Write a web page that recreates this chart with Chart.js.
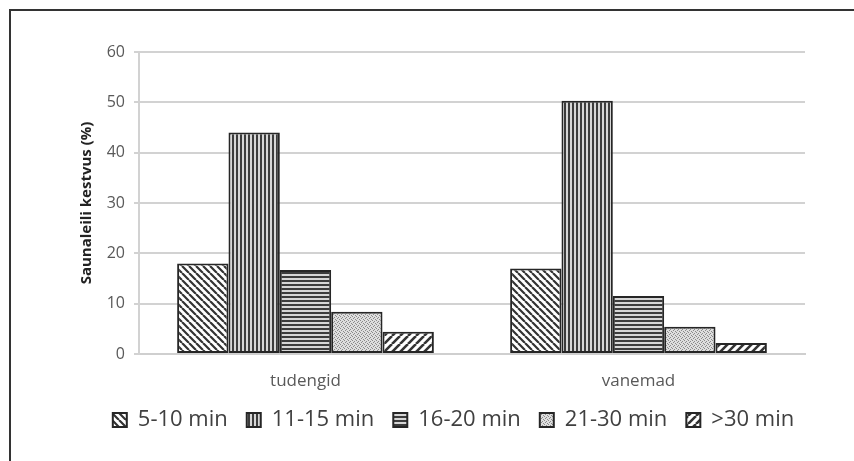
<!DOCTYPE html>
<html>
<head>
<meta charset="utf-8">
<script src="https://cdn.jsdelivr.net/npm/chart.js@4"></script>
<style>
  html, body { margin: 0; padding: 0; background: #fff; }
  #wrap { position: relative; width: 854px; height: 461px; overflow: hidden; }
  #frame { position: absolute; left: 9px; top: 9px; width: 900px; height: 500px; border: 2px solid #333; }
  canvas { position: absolute; left: 0; top: 0; }
</style>
</head>
<body>
<div id="wrap">
  <div id="frame"></div>
  <canvas id="chart" width="854" height="461"></canvas>
</div>
<script>
// andmed
const categories = ['tudengid', 'vanemad'];
const seriesLabels = ['5-10 min', '11-15 min', '16-20 min', '21-30 min', '>30 min'];
const min5to10 = [18, 17];
const min11to15 = [44, 50.3];
const min16to20 = [16.7, 11.5];
const min21to30 = [8.4, 5.4];
const over30 = [4.4, 2.2];
const yMax = 60;
const yStep = 10;

const canvas = document.getElementById('chart');
const ctx = canvas.getContext('2d');

// mustrid (hatch)
function makePattern(size, draw) {
    const c = document.createElement('canvas');
    c.width = size;
    c.height = size;
    const g = c.getContext('2d');
    g.fillStyle = '#fff';
    g.fillRect(0, 0, size, size);
    draw(g, size);
    return ctx.createPattern(c, 'repeat');
}

function diagonal(back, size, width) {
    return makePattern(size, (g, s) => {
        g.strokeStyle = '#333';
        g.lineWidth = width;
        g.beginPath();
        for (const k of [-s, 0, s]) {
            if (back) { g.moveTo(k, 0); g.lineTo(k + s, s); }
            else { g.moveTo(k, s); g.lineTo(k + s, 0); }
        }
        g.stroke();
    });
}

const patBack = diagonal(true, 7, 2.2);
const patSlash = diagonal(false, 8, 2.6);
const patVert = makePattern(4, (g) => {
    g.fillStyle = '#d6d6d6'; g.fillRect(0, 0, 4, 4);
    g.fillStyle = '#3c3c3c'; g.fillRect(0, 0, 2, 4);
});
const patHoriz = makePattern(4, (g) => {
    g.fillStyle = '#d6d6d6'; g.fillRect(0, 0, 4, 4);
    g.fillStyle = '#3c3c3c'; g.fillRect(0, 0, 4, 2);
});
const patDots = makePattern(4, (g) => {
    g.fillStyle = '#dedede'; g.fillRect(0, 0, 4, 4);
    g.fillStyle = '#8a8a8a';
    g.fillRect(0, 0, 1, 1);
    g.fillRect(2, 1, 1, 1);
    g.fillRect(1, 2, 1, 1);
    g.fillRect(3, 3, 1, 1);
});

const seriesData = [min5to10, min11to15, min16to20, min21to30, over30];
const patterns = [patBack, patVert, patHoriz, patDots, patSlash];

const datasets = seriesLabels.map((label, i) => ({
    label: label,
    data: seriesData[i],
    backgroundColor: patterns[i],
    borderColor: '#262626',
    borderWidth: 2,
    borderSkipped: false,
    barPercentage: 1,
    categoryPercentage: 0.771
}));

// legend veidi paremale nagu originaalis
const shiftLegend = {
    id: 'shiftLegend',
    afterLayout(chart) {
        chart.legend.left += 12;
        chart.legend.right += 12;
    }
};

new Chart(ctx, {
    type: 'bar',
    data: { labels: categories, datasets: datasets },
    plugins: [shiftLegend],
    options: {
        responsive: false,
        animation: false,
        layout: { padding: { left: 78, right: 49, top: 52, bottom: 20 } },
        plugins: {
            tooltip: { enabled: false },
            legend: {
                position: 'bottom',
                labels: {
                    boxWidth: 14,
                    boxHeight: 14,
                    padding: 19,
                    color: '#404040',
                    font: { family: 'Open Sans', size: 22 }
                }
            }
        },
        scales: {
            x: {
                grid: { display: false, drawTicks: false },
                border: { display: true, color: '#cfcfcf', width: 2 },
                ticks: {
                    padding: 17,
                    color: '#595959',
                    font: { family: 'Open Sans', size: 17 }
                },
                afterFit: scale => { scale.height = 36; }
            },
            y: {
                min: 0,
                max: yMax,
                ticks: {
                    stepSize: yStep,
                    padding: 9,
                    color: '#595959',
                    font: { family: 'Open Sans', size: 16 }
                },
                grid: { color: '#d2d2d2', lineWidth: 2, tickLength: 5 },
                border: { color: '#d2d2d2', width: 2 },
                title: {
                    display: true,
                    text: 'Saunaleili kestvus (%)',
                    color: '#222',
                    padding: 0,
                    font: { family: 'Open Sans', size: 15, weight: 'bold' }
                },
                afterFit: scale => { scale.width = 61; }
            }
        }
    }
});
</script>
</body>
</html>
